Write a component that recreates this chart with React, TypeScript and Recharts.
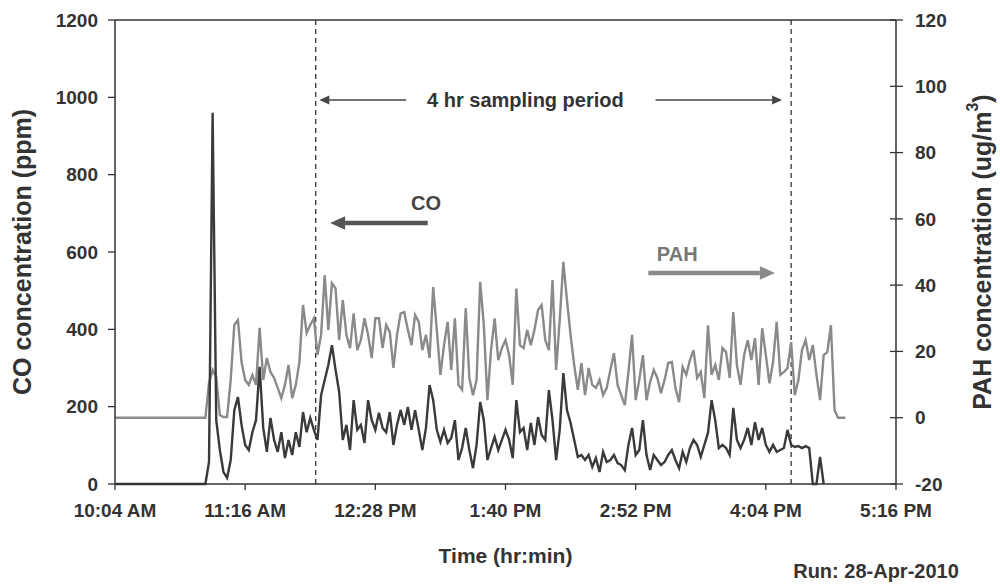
import { ComposedChart, Line, XAxis, YAxis, ReferenceLine, ReferenceDot } from 'recharts'

// sampling grid: one reading every 2 minutes from 10:04 (minutes after midnight)
const T0 = 604
const STEP = 2

// CO concentration (ppm), left axis
const CO = [
  0, 0, 0, 0, 0, 0, 0, 0, 0, 0, 0, 0, 0, 0, 0, 0, 0, 0, 0, 0, 0, 0, 0, 0, 0, 0,
  57, 960, 165, 88, 31, 16, 62, 191, 225, 153,
  101, 88, 134, 165, 303, 145, 83, 171, 114, 83,
  134, 67, 114, 75, 134, 96, 186, 134, 171, 140,
  114, 230, 269, 308, 359,
  295, 238, 114, 153, 88, 217, 140, 153, 106, 217,
  165, 140, 184, 145, 134, 186, 101, 153, 191, 153,
  199, 140, 191, 140, 88, 145, 256, 217, 140, 109,
  140,
  106, 119, 165, 62, 93, 145, 88, 41, 101, 212,
  165, 62, 93, 122, 88, 114, 140, 114, 67, 217,
  134, 145, 88, 158, 101, 173, 127, 114, 243, 165,
  62, 140, 287, 191, 158, 114, 70,
  75, 62, 75, 44, 67, 31, 83, 57, 62, 75,
  54, 49, 36, 101, 145, 75, 88, 165, 75, 36,
  75, 62, 49, 57, 75, 88, 62, 41, 83, 57,
  93, 114, 101, 70, 101, 132, 217, 165,
  93, 101, 93, 75, 197, 114, 93, 114, 145, 101,
  160, 114, 145, 101, 83, 101, 83, 88, 93, 140,
  101, 96, 98, 93, 98, 93, 0, 0, 70, 0,
  null, null, null, null, null, null,
]

// PAH concentration (ug/m3), right axis
const PAH = [
  0, 0, 0, 0, 0, 0, 0, 0, 0, 0, 0, 0, 0, 0, 0, 0, 0, 0, 0, 0, 0, 0, 0, 0, 0, 0,
  10.5, 14.4, 12.3, 0.8, 0.2, 0.2, 11.4, 28, 29.5, 16.8,
  11.4, 9.9, 12.9, 9.9, 27.1, 11.4, 18, 13.8, 12, 9,
  5.9, 9.9, 15.9, 5.9, 9.9, 16.8, 34, 25.6, 28, 30,
  18.9, 25, 43, 26.5, 40.6,
  39, 23.4, 35.5, 25, 21, 31.5, 20.4, 23.4, 30, 25,
  18, 30, 30, 21, 28, 25.9, 15, 25, 31.5, 31.9,
  26.5, 21.9, 31, 28.9, 20.4, 25, 18, 39.4, 26.5, 12.9,
  21.9,
  28.9, 14.4, 30, 9.9, 8.4, 33, 12, 6.8, 11.4, 41,
  28, 5.3, 20.4, 30, 17.4, 21, 23.4, 18.9, 9.9, 39,
  21.9, 21, 26.5, 21.9, 26.5, 32.5, 34, 23.4, 20.4, 41.5,
  14.4, 29.5, 47, 35.5, 25, 15.9, 8.4,
  16.5, 6.8, 15, 9.9, 9, 11.4, 6.8, 9, 14.4, 19.5,
  9.9, 6.8, 3.8, 13.8, 25, 5.3, 11.4, 18.9, 5.3, 10.8,
  14.4, 12, 7.4, 11.4, 16.5, 16.8, 9, 4.7, 15.3, 12.9,
  17.4, 20.4, 12, 13.8, 5.9, 27.9, 12.9, 15.9,
  11.4, 21, 19.8, 12, 31.9, 15.9, 9.9, 18.9, 23.4, 17.4,
  24, 9.9, 27, 18.9, 10.4, 16.8, 28.9, 12.9, 13.8, 15,
  22.8, 6.8, 11.4, 20.4, 23.4, 17.4, 21.9, 12.9, 5.3, 18.9,
  19.8, 27.9, 2.3, 0, 0, 0,
]

const X_TICKS = [604, 676, 748, 820, 892, 964, 1036]
const X_LABELS = ['10:04 AM', '11:16 AM', '12:28 PM', '1:40 PM', '2:52 PM', '4:04 PM', '5:16 PM']
const CO_TICKS = [0, 200, 400, 600, 800, 1000, 1200]
const PAH_TICKS = [-20, 0, 20, 40, 60, 80, 100, 120]

// start / end of the 4 hr sampling period
const SAMPLE_START = 715
const SAMPLE_END = 978

const data = CO.map((co, i) => ({ t: T0 + STEP * i, co, pah: PAH[i] }))

const FONT = "'Liberation Sans', Arial, sans-serif"
const INK = '#333'
const tickStyle = { fontSize: 19, fontWeight: 700, fill: INK, fontFamily: FONT }

const arrow = (color: string, width: number, head: number) => (p: any) => {
  const { x1, y1, x2, y2 } = p
  const dir = Math.sign(x2 - x1)
  const hx = x2 - dir * head
  return (
    <g>
      <line x1={x1} y1={y1} x2={hx} y2={y2} stroke={color} strokeWidth={width} />
      <polygon points={`${x2},${y2} ${hx},${y2 - head * 0.45} ${hx},${y2 + head * 0.45}`} fill={color} />
    </g>
  )
}

const note = (text: string, color: string, size: number) => (p: any) => (
  <text x={p.cx} y={p.cy} textAnchor="middle" dominantBaseline="central"
    fontFamily={FONT} fontWeight={700} fontSize={size} fill={color}>{text}</text>
)

const RightTick = (p: any) => {
  const ax = p.x - 19
  return (
    <g>
      <line x1={ax - 6} x2={ax + 7} y1={p.y} y2={p.y} stroke={INK} strokeWidth={1.3} />
      <text x={p.x} y={p.y} dy="0.35em" textAnchor="start" {...tickStyle}>{p.payload.value}</text>
    </g>
  )
}

const LeftTitle = (p: any) => {
  const { x, y, height } = p.viewBox
  const cx = x + 22, cy = y + height / 2
  return (
    <text x={cx} y={cy} transform={`rotate(-90 ${cx} ${cy})`} textAnchor="middle" dominantBaseline="central"
      fontFamily={FONT} fontWeight={700} fontSize={25} fill={INK}>CO concentration (ppm)</text>
  )
}

const RightTitle = (p: any) => {
  const { x, y, height } = p.viewBox
  const cx = x + 86, cy = y + height / 2
  return (
    <text x={cx} y={cy} transform={`rotate(-90 ${cx} ${cy})`} textAnchor="middle" dominantBaseline="central"
      fontFamily={FONT} fontWeight={700} fontSize={25} fill={INK}>
      PAH concentration (ug/m<tspan fontSize={16} dy={-10}>3</tspan><tspan dy={10}>)</tspan>
    </text>
  )
}

const BottomTitle = (p: any) => {
  const { x, y, width } = p.viewBox
  return (
    <g fontFamily={FONT} fontWeight={700} fill={INK}>
      <text x={x + width / 2} y={y + 71} textAnchor="middle" dominantBaseline="central" fontSize={21}>Time (hr:min)</text>
      <text x={x + width - 20} y={y + 87} textAnchor="middle" dominantBaseline="central" fontSize={20}>Run: 28-Apr-2010</text>
    </g>
  )
}

export default function App() {
  return (
    <div style={{ width: 1000, height: 585, background: '#fff' }}>
      <style>{'body{margin:0}'}</style>
      <ComposedChart width={1000} height={585} data={data} margin={{ top: 20, right: 0, bottom: 0, left: 0 }}>
        <XAxis
          dataKey="t" type="number" domain={[604, 1036]} ticks={X_TICKS}
          tickFormatter={(v: number) => X_LABELS[X_TICKS.indexOf(v)]}
          height={101} tick={tickStyle} tickSize={6} tickMargin={14}
          axisLine={{ stroke: INK, strokeWidth: 1.5 }} tickLine={{ stroke: INK, strokeWidth: 1.3 }}
          interval={0} label={BottomTitle}
        />
        <YAxis
          yAxisId="co" domain={[0, 1200]} ticks={CO_TICKS} width={115}
          tick={tickStyle} tickSize={7} tickMargin={10} interval={0}
          axisLine={{ stroke: INK, strokeWidth: 1.5 }} tickLine={{ stroke: INK, strokeWidth: 1.3 }}
          label={LeftTitle}
        />
        <YAxis
          yAxisId="pah" orientation="right" domain={[-20, 120]} ticks={PAH_TICKS} width={104}
          tick={RightTick} tickSize={7} tickMargin={12} tickLine={false} interval={0}
          axisLine={{ stroke: INK, strokeWidth: 1.5 }}
          label={RightTitle}
        />
        <ReferenceLine yAxisId="co" y={1200} stroke={INK} strokeWidth={1.5} />
        <ReferenceLine yAxisId="co" x={SAMPLE_START} stroke={INK} strokeWidth={1.3} strokeDasharray="5 4" />
        <ReferenceLine yAxisId="co" x={SAMPLE_END} stroke={INK} strokeWidth={1.3} strokeDasharray="5 4" />

        <Line yAxisId="pah" dataKey="pah" type="linear" stroke="#8a8a8a" strokeWidth={2.4} dot={false} isAnimationActive={false} />
        <Line yAxisId="co" dataKey="co" type="linear" stroke="#3a3a3a" strokeWidth={2.4} dot={false} isAnimationActive={false} />

        <ReferenceLine yAxisId="co" segment={[{ x: 765, y: 993 }, { x: 717, y: 993 }]} shape={arrow('#444', 1.5, 10)} />
        <ReferenceLine yAxisId="co" segment={[{ x: 903, y: 993 }, { x: 973, y: 993 }]} shape={arrow('#444', 1.5, 10)} />
        <ReferenceDot yAxisId="co" x={831} y={993} shape={note('4 hr sampling period', INK, 20)} />

        <ReferenceLine yAxisId="co" segment={[{ x: 777, y: 675 }, { x: 723, y: 675 }]} shape={arrow('#555', 4.5, 15)} />
        <ReferenceDot yAxisId="co" x={776} y={727} shape={note('CO', '#444', 20)} />

        <ReferenceLine yAxisId="co" segment={[{ x: 899, y: 546 }, { x: 969, y: 546 }]} shape={arrow('#8a8a8a', 4.5, 15)} />
        <ReferenceDot yAxisId="co" x={915} y={595} shape={note('PAH', '#777', 20)} />
      </ComposedChart>
    </div>
  )
}
